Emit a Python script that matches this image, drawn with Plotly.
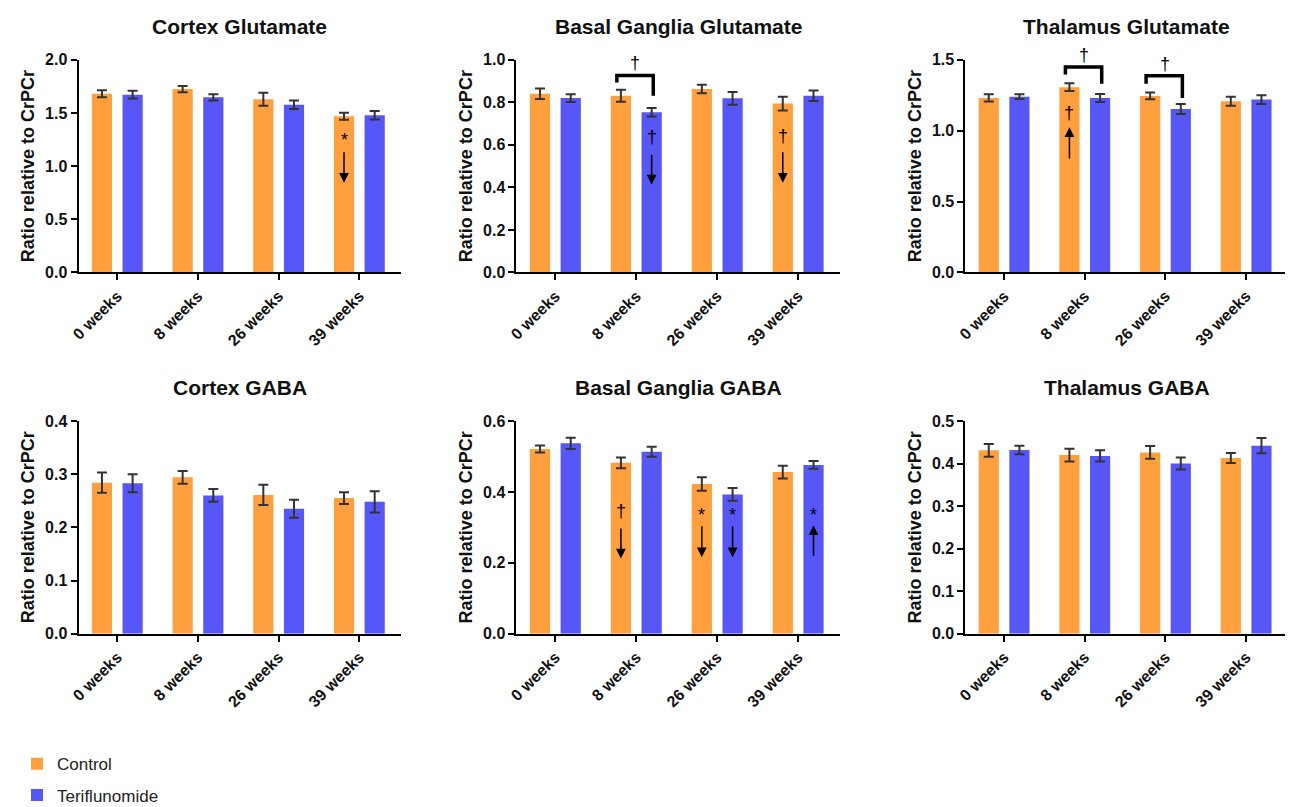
import plotly.graph_objects as go

# the page places the figure 8px in from the top-left corner (default body margin)
FW, FH = 1293, 807
OX, OY = 8, 8


def px(x):
    return (x - OX) / FW


def py(y):
    return 1 - (y - OY) / FH


categories = ["0 weeks", "8 weeks", "26 weeks", "39 weeks"]
cat_pos = [0, 1, 2, 3]

panel_titles = ["Cortex Glutamate", "Basal Ganglia Glutamate", "Thalamus Glutamate",
                "Cortex GABA", "Basal Ganglia GABA", "Thalamus GABA"]

# ---- values (ratio relative to CrPCr) ----
control_cortex_glu = [1.681, 1.724, 1.629, 1.469]
control_cortex_glu_err = [0.033, 0.029, 0.062, 0.033]
terif_cortex_glu = [1.672, 1.647, 1.577, 1.479]
terif_cortex_glu_err = [0.036, 0.029, 0.040, 0.040]

control_bg_glu = [0.840, 0.831, 0.863, 0.794]
control_bg_glu_err = [0.025, 0.028, 0.020, 0.032]
terif_bg_glu = [0.820, 0.753, 0.819, 0.831]
terif_bg_glu_err = [0.018, 0.020, 0.030, 0.025]

control_th_glu = [1.231, 1.307, 1.245, 1.208]
control_th_glu_err = [0.026, 0.028, 0.024, 0.032]
terif_th_glu = [1.240, 1.231, 1.153, 1.219]
terif_th_glu_err = [0.016, 0.028, 0.035, 0.031]

control_cortex_gaba = [0.284, 0.294, 0.261, 0.255]
control_cortex_gaba_err = [0.019, 0.012, 0.019, 0.011]
terif_cortex_gaba = [0.283, 0.260, 0.235, 0.248]
terif_cortex_gaba_err = [0.017, 0.012, 0.017, 0.020]

control_bg_gaba = [0.521, 0.482, 0.422, 0.456]
control_bg_gaba_err = [0.010, 0.015, 0.019, 0.018]
terif_bg_gaba = [0.537, 0.513, 0.393, 0.476]
terif_bg_gaba_err = [0.016, 0.014, 0.018, 0.011]

control_th_gaba = [0.431, 0.420, 0.426, 0.413]
control_th_gaba_err = [0.015, 0.015, 0.015, 0.012]
terif_th_gaba = [0.432, 0.418, 0.400, 0.442]
terif_th_gaba_err = [0.010, 0.013, 0.014, 0.018]

control_values = [control_cortex_glu, control_bg_glu, control_th_glu,
                  control_cortex_gaba, control_bg_gaba, control_th_gaba]
control_errors = [control_cortex_glu_err, control_bg_glu_err, control_th_glu_err,
                  control_cortex_gaba_err, control_bg_gaba_err, control_th_gaba_err]
terif_values = [terif_cortex_glu, terif_bg_glu, terif_th_glu,
                terif_cortex_gaba, terif_bg_gaba, terif_th_gaba]
terif_errors = [terif_cortex_glu_err, terif_bg_glu_err, terif_th_glu_err,
                terif_cortex_gaba_err, terif_bg_gaba_err, terif_th_gaba_err]

y_max = [2.0, 1.0, 1.5, 0.4, 0.6, 0.5]
y_step = [0.5, 0.2, 0.5, 0.1, 0.2, 0.1]

# significance markers within bars: (panel, category, series, symbol, y_symbol, y_tail, y_head)
sig_arrows = [
    (0, 3, "c", "*", 1.25, 1.144, 0.844),
    (1, 1, "t", "†", 0.637, 0.560, 0.414),
    (1, 3, "c", "†", 0.641, 0.572, 0.422),
    (2, 1, "c", "†", 1.127, 0.794, 1.024),
    (4, 1, "c", "†", 0.345, 0.301, 0.212),
    (4, 2, "c", "*", 0.335, 0.307, 0.216),
    (4, 2, "t", "*", 0.335, 0.307, 0.216),
    (4, 3, "t", "*", 0.335, 0.216, 0.306),
]
# between-group brackets: (panel, category, y_top, y_left_end, y_right_end)
sig_brackets = [
    (1, 1, 0.926, 0.893, 0.831),
    (2, 1, 1.449, 1.396, 1.330),
    (2, 2, 1.387, 1.330, 1.231),
]

COL_C = "#FF9F3E"
COL_T = "#5756F6"
FONT = "Liberation Sans, Arial, sans-serif"

# panel pixel boxes in the window (x0, x1) and (ytop, ybottom)
col_px = [(70, 395), (511, 837), (963, 1288)]
row_px = [(52.7, 270), (421.7, 639)]

BAR_W = 0.25
OFF_C = -0.315
OFF_T = 0.065
XRANGE = [-0.48, 3.52]

fig = go.Figure()
layout = dict(
    width=FW, height=FH, margin=dict(l=0, r=0, t=0, b=0),
    plot_bgcolor="white", paper_bgcolor="white",
    barmode="overlay",
    font=dict(family=FONT, color="#111"),
    showlegend=True,
    legend=dict(x=px(8), y=py(754), xanchor="left", yanchor="top",
                font=dict(size=17, family=FONT, color="#222"),
                tracegroupgap=6, itemwidth=30, bgcolor="rgba(0,0,0,0)"),
)
annotations = []
shapes = []

for p in range(6):
    r, c = divmod(p, 3)
    sfx = "" if p == 0 else str(p + 1)
    xa, ya = "x" + sfx, "y" + sfx
    x0, x1 = col_px[c]
    yt, yb = row_px[r]
    fig.add_trace(go.Bar(
        x=cat_pos, y=control_values[p], width=BAR_W, offset=OFF_C,
        marker=dict(color=COL_C, line=dict(width=0)),
        error_y=dict(type="data", array=control_errors[p], color="#333333", thickness=2, width=5),
        name="Control", legendgroup="c", showlegend=(p == 0), xaxis=xa, yaxis=ya))
    fig.add_trace(go.Bar(
        x=cat_pos, y=terif_values[p], width=BAR_W, offset=OFF_T,
        marker=dict(color=COL_T, line=dict(width=0)),
        error_y=dict(type="data", array=terif_errors[p], color="#333333", thickness=2, width=5),
        name="Teriflunomide", legendgroup="t", showlegend=(p == 0), xaxis=xa, yaxis=ya))

    layout["xaxis" + sfx] = dict(
        domain=[px(x0), px(x1)], anchor=ya, range=XRANGE,
        tickmode="array", tickvals=cat_pos, ticktext=categories, tickangle=-45,
        showline=True, linecolor="black", linewidth=2, ticks="outside", ticklen=6,
        tickwidth=2, tickcolor="black", showgrid=False, zeroline=False,
        tickfont=dict(size=16, family=FONT, color="#111", weight="bold"))
    layout["yaxis" + sfx] = dict(
        domain=[py(yb), py(yt)], anchor=xa, range=[0, y_max[p]],
        tickmode="linear", tick0=0, dtick=y_step[p], tickformat=".1f",
        showline=True, linecolor="black", linewidth=2, ticks="outside", ticklen=6,
        tickwidth=2, tickcolor="black", showgrid=False, zeroline=False,
        tickfont=dict(size=16, family=FONT, color="#111", weight="bold"),
        title=dict(text="Ratio relative to CrPCr", standoff=6,
                   font=dict(size=18, family=FONT, color="#111", weight="bold")))
    annotations.append(dict(
        text="<b>" + panel_titles[p] + "</b>", xref="paper", yref="paper",
        x=px((x0 + x1) / 2), y=py(yt - 34), xanchor="center", yanchor="middle",
        showarrow=False, font=dict(size=21, family=FONT, color="#111")))

for (p, ci, s, sym, ys, ytail, yhead) in sig_arrows:
    sfx = "" if p == 0 else str(p + 1)
    xc = cat_pos[ci] + (OFF_C if s == "c" else OFF_T) + BAR_W / 2
    annotations.append(dict(
        text=sym, x=xc, y=ys, xref="x" + sfx, yref="y" + sfx, showarrow=False,
        xanchor="center", yanchor="middle", font=dict(size=18, family=FONT, color="black")))
    annotations.append(dict(
        text="", x=xc, y=yhead, ax=xc, ay=ytail, xref="x" + sfx, yref="y" + sfx,
        axref="x" + sfx, ayref="y" + sfx, showarrow=True, arrowhead=2, arrowsize=1.3,
        arrowwidth=1.5, arrowcolor="black"))

for (p, ci, ytop, yl, yr) in sig_brackets:
    sfx = "" if p == 0 else str(p + 1)
    xl = cat_pos[ci] - 0.24
    xr = cat_pos[ci] + 0.21
    shapes.append(dict(
        type="path", xref="x" + sfx, yref="y" + sfx,
        path=f"M {xl},{yl} L {xl},{ytop} L {xr},{ytop} L {xr},{yr}",
        line=dict(color="black", width=3.5)))
    annotations.append(dict(
        text="†", x=cat_pos[ci] - 0.01, y=ytop, yshift=12, xref="x" + sfx, yref="y" + sfx,
        showarrow=False, xanchor="center", yanchor="middle",
        font=dict(size=18, family=FONT, color="black")))

layout["annotations"] = annotations
layout["shapes"] = shapes
fig.update_layout(**layout)
fig.write_html("out.html")
